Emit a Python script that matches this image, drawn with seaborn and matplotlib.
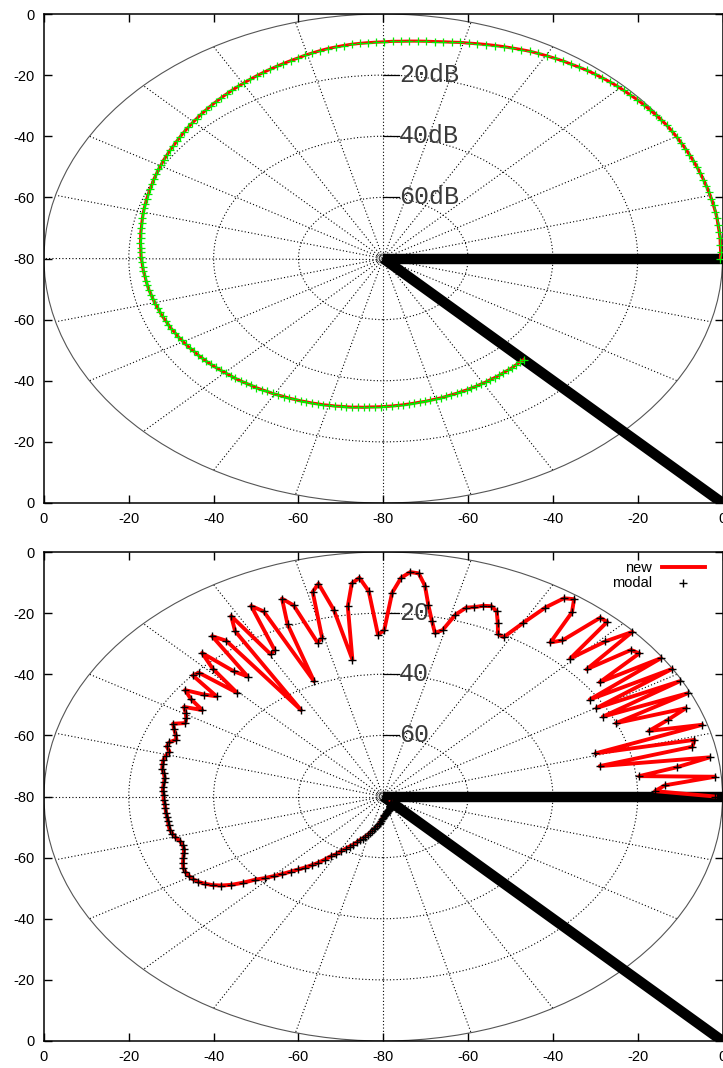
import numpy as np
import matplotlib
matplotlib.use("Agg")
import matplotlib.pyplot as plt
from matplotlib.patches import Circle
import seaborn as sns
import pandas as pd

# ---------------- data ----------------
# angular sampling of the measured patterns (degrees per sample)
SAMPLE_STEP_DEG = 315.0 / 200.0

# upper panel: level (dB) at every angle step 0..200
top_level_db = [
    -0.5, -0.4, -0.4, -0.3, -0.3, -0.3, -0.2, -0.2, -0.2, -0.2,
    -0.2, -0.2, -0.2, -0.2, -0.2, -0.2, -0.2, -0.2, -0.2, -0.2,
    -0.2, -0.2, -0.3, -0.4, -0.5, -0.6, -0.7, -0.9, -1.0, -1.1,
    -1.3, -1.5, -1.7, -1.9, -2.2, -2.5, -2.7, -3.0, -3.3, -3.6,
    -3.9, -4.3, -4.7, -5.1, -5.5, -5.9, -6.3, -6.7, -7.0, -7.4,
    -7.7, -8.0, -8.2, -8.4, -8.6, -8.8, -8.9, -9.1, -9.2, -9.3,
    -9.4, -9.5, -9.7, -9.9, -10.1, -10.4, -10.7, -11.0, -11.4, -11.7,
    -12.0, -12.3, -12.6, -12.9, -13.2, -13.5, -13.8, -14.1, -14.4, -14.7,
    -15.0, -15.3, -15.6, -15.9, -16.2, -16.5, -16.8, -17.1, -17.4, -17.7,
    -18.0, -18.3, -18.5, -18.8, -19.0, -19.3, -19.5, -19.8, -20.0, -20.3,
    -20.5, -20.7, -20.9, -21.1, -21.3, -21.5, -21.7, -21.9, -22.1, -22.2,
    -22.4, -22.5, -22.7, -22.8, -22.9, -23.1, -23.2, -23.3, -23.5, -23.6,
    -23.7, -23.8, -24.0, -24.1, -24.2, -24.4, -24.5, -24.6, -24.8, -24.9,
    -25.0, -25.2, -25.3, -25.5, -25.6, -25.8, -26.0, -26.1, -26.3, -26.4,
    -26.6, -26.8, -27.0, -27.2, -27.4, -27.5, -27.7, -27.9, -28.1, -28.2,
    -28.4, -28.6, -28.7, -28.9, -29.1, -29.2, -29.4, -29.5, -29.7, -29.8,
    -30.0, -30.1, -30.3, -30.4, -30.6, -30.7, -30.8, -31.0, -31.1, -31.3,
    -31.4, -31.5, -31.6, -31.7, -31.8, -31.9, -32.0, -32.1, -32.2, -32.2,
    -32.3, -32.4, -32.4, -32.5, -32.6, -32.6, -32.7, -32.7, -32.8, -32.8,
    -32.9, -32.9, -33.0, -33.0, -33.0, -33.1, -33.1, -33.1, -33.2, -33.2,
    -33.2]

# lower panel: level (dB) at every angle step 0..200
bottom_level_db = [
    -1.8, -15.9, -13.5, -1.5, -19.3, -10.1, -2.0, -28.0, -5.3, -4.3,
    -28.0, -1.2, -13.8, -8.4, -3.0, -20.1, -0.7, -22.0, -0.6, -22.0,
    -0.1, -21.9, -0.4, -16.7, -3.6, -4.4, -16.5, -0.3, -7.1, -16.9,
    -2.2, -2.3, -13.7, -16.0, -5.1, -1.3, -2.4, -7.3, -14.3, -20.6,
    -20.4, -17.1, -13.8, -12.7, -13.3, -14.4, -15.2, -18.1, -23.8, -25.1,
    -21.3, -16.6, -10.3, -6.5, -6.3, -8.3, -13.3, -25.6, -27.0, -12.7,
    -8.2, -9.9, -17.2, -34.6, -17.9, -8.7, -11.0, -26.1, -27.3, -14.0,
    -11.0, -19.3, -38.9, -13.2, -10.3, -25.7, -26.4, -10.9, -15.6, -45.7,
    -17.0, -13.8, -29.4, -25.9, -16.5, -22.0, -31.6, -20.6, -20.1, -28.8,
    -26.1, -21.7, -24.6, -28.8, -24.6, -26.0, -27.0, -27.5, -25.0, -26.0,
    -27.0, -27.8, -26.5, -26.4, -27.5, -27.0, -26.8, -26.9, -27.1, -27.7,
    -28.1, -28.1, -28.0, -28.0, -28.2, -28.2, -28.4, -28.5, -28.5, -28.6,
    -28.6, -28.5, -28.5, -28.8, -29.2, -29.9, -30.1, -30.0, -29.4, -28.7,
    -28.0, -27.4, -27.2, -27.3, -27.6, -28.2, -29.2, -30.4, -32.0, -34.0,
    -36.6, -39.4, -41.3, -43.3, -45.2, -47.1, -48.8, -50.3, -51.9, -53.4,
    -55.2, -57.0, -58.0, -59.5, -60.8, -61.8, -62.7, -63.7, -64.7, -65.4,
    -66.2, -66.9, -67.7, -68.4, -69.0, -69.6, -70.2, -70.8, -71.4, -72.0,
    -72.6, -73.1, -73.6, -73.8, -74.0, -74.3, -74.5, -74.7, -74.9, -75.05,
    -75.2, -75.3, -75.4, -75.5, -75.65, -75.8, -75.95, -76.1, -76.25, -76.4,
    -76.5, -76.6, -76.7, -76.8, -76.9, -77.0, -77.1, -77.2, -77.3, -77.4,
    -77.5]

R_MIN_DB = -80.0                    # radial range [-80 : 0] dB
sector_edge_angles_deg = [0, -45]   # the two thick sector edges
tick_values = [-80, -60, -40, -20, 0, 20, 40, 60, 80]
tick_labels = ["0", "-20", "-40", "-60", "-80", "-60", "-40", "-20", "0"]
grid_radii = [20, 40, 60]
outer_radius = 80
spoke_step_deg = 15
top_ring_labels = {60: "20dB", 40: "40dB", 20: "60dB"}
bottom_ring_labels = {60: "20", 40: "40", 20: "60"}


def to_xy(angle_deg, level_db):
    rho = np.clip(np.asarray(level_db, float) - R_MIN_DB, 0, None)
    th = np.deg2rad(np.asarray(angle_deg, float))
    return rho * np.cos(th), rho * np.sin(th)


top_angle = np.arange(len(top_level_db)) * SAMPLE_STEP_DEG
tx, ty = to_xy(top_angle, top_level_db)
top_df = pd.DataFrame({"x": tx, "y": ty})

bottom_angle = np.arange(len(bottom_level_db)) * SAMPLE_STEP_DEG
bx, by = to_xy(bottom_angle, bottom_level_db)
bottom_df = pd.DataFrame({"x": bx, "y": by})

# ---------------- figure ----------------
plt.rcParams["font.family"] = ["Liberation Sans", "DejaVu Sans"]
W, H = 723, 1068
fig = plt.figure(figsize=(W / 100, H / 100), dpi=100)

left = 44 / W
width = (722.5 - 44) / W
height = 489 / H
ax_top = fig.add_axes([left, (H - 503) / H, width, height])
ax_bot = fig.add_axes([left, (H - 1041) / H, width, height])

dot = (0, (1, 2))


def decorate(ax, ring_labels):
    ax.set_xlim(-80, 80)
    ax.set_ylim(-80, 80)
    for a in range(0, 360, spoke_step_deg):
        sx, sy = to_xy([a, a], [R_MIN_DB, R_MIN_DB + outer_radius])
        ax.plot(sx, sy, color="black", lw=0.8, ls=dot, zorder=1)
    for r in grid_radii:
        ax.add_patch(Circle((0, 0), r, fill=False, ec="black", lw=0.8, ls=dot, zorder=1))
    for r in [0.5, 1.0, 1.5]:
        ax.add_patch(Circle((0, 0), r, fill=False, ec="#555555", lw=0.6, zorder=1))
    ax.add_patch(Circle((0, 0), outer_radius, fill=False, ec="#555555", lw=0.8, zorder=1))
    for r, lab in ring_labels.items():
        ax.plot([0, 3.6], [r, r], color="black", lw=0.9, zorder=2)
        ax.text(3.7, r, lab, ha="left", va="center", fontsize=18,
                family=["Liberation Mono", "DejaVu Sans Mono"], color="#3a3a3a", zorder=2)
    for a in sector_edge_angles_deg:
        ex, ey = to_xy([a, a], [R_MIN_DB, R_MIN_DB + 125])
        ax.plot(ex, ey, color="black", lw=7.5, solid_capstyle="butt", zorder=3)
    ax.set_xticks(tick_values)
    ax.set_xticklabels(tick_labels)
    ax.set_yticks(tick_values)
    ax.set_yticklabels(tick_labels)
    ax.tick_params(direction="in", length=6, width=1, top=True, right=True,
                   labelsize=10.5, pad=6.5, colors="black")
    for s in ax.spines.values():
        s.set_linewidth(1.1)
        s.set_color("black")


decorate(ax_top, top_ring_labels)
decorate(ax_bot, bottom_ring_labels)

# upper pattern
sns.lineplot(data=top_df, x="x", y="y", sort=False, estimator=None, color="red",
             lw=2.2, ax=ax_top, zorder=4, legend=False)
sns.scatterplot(data=top_df, x="x", y="y", marker="+", color="#00ee00", s=26,
                linewidth=0.9, ax=ax_top, zorder=5, legend=False)

# lower pattern
sns.lineplot(data=bottom_df, x="x", y="y", sort=False, estimator=None, color="red",
             lw=2.8, ax=ax_bot, zorder=4, label="new")
sns.scatterplot(data=bottom_df, x="x", y="y", marker="+", color="black", s=40,
                linewidth=1.0, ax=ax_bot, zorder=5, label="modal")

for ax in (ax_top, ax_bot):
    ax.set_xlabel("")
    ax.set_ylabel("")

ax_bot.legend(loc="upper right", bbox_to_anchor=((705 - 44) / 678.5, 1 - 9 / 489),
              frameon=False, markerfirst=False, fontsize=10.5, handlelength=2.95,
              handletextpad=0.7, borderpad=0, labelspacing=0.05, borderaxespad=0,
              scatterpoints=1)

fig.savefig("out.png", dpi=100)
